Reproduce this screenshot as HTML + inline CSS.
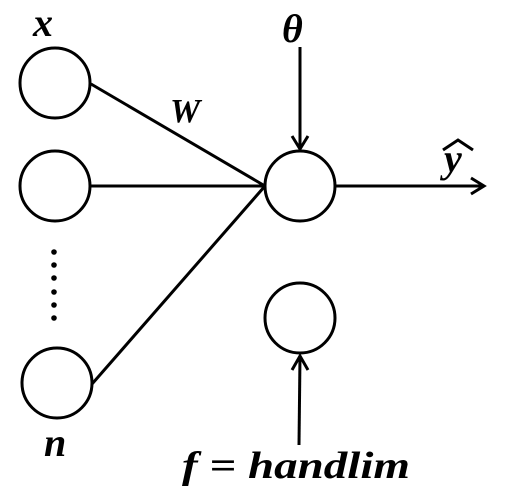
<!DOCTYPE html>
<html><head><meta charset="utf-8"><style>
html,body{margin:0;padding:0;background:#fff;width:505px;height:504px;overflow:hidden}
text{font-family:"Liberation Serif","DejaVu Serif",serif;font-weight:bold;font-style:italic;fill:#000}
</style></head><body>
<svg width="505" height="504" viewBox="0 0 505 504">
<g fill="none" stroke="#000" stroke-width="3">
<circle cx="55" cy="83" r="35"/>
<circle cx="55" cy="186" r="35"/>
<circle cx="57" cy="383" r="35"/>
<circle cx="300" cy="186" r="35"/>
<circle cx="300" cy="318" r="35"/>
<line x1="91" y1="84" x2="265" y2="186"/>
<line x1="91" y1="186" x2="265" y2="186"/>
<line x1="92" y1="384" x2="265" y2="186"/>
<line x1="300" y1="47" x2="300" y2="149"/>
<polyline points="292,136 300,149 308,136"/>
<line x1="335" y1="186" x2="484" y2="186"/>
<polyline points="471,178 484,186 471,194"/>
<line x1="299" y1="445" x2="300" y2="356"/>
<polyline points="292,370 300,356 308,370"/>
</g>
<g fill="#000">
<circle cx="54" cy="252" r="2.8"/><circle cx="54" cy="265" r="2.8"/><circle cx="54" cy="278" r="2.8"/>
<circle cx="54" cy="292" r="2.8"/><circle cx="54" cy="305" r="2.8"/><circle cx="54" cy="318" r="2.8"/>
</g>
<text x="33" y="36" font-size="40">x</text>
<text x="170" y="122" font-size="34">W</text>
<text x="282" y="42" font-size="40">θ</text>
<text x="444" y="172" font-size="40">y</text>
<polyline points="443,150 458,140 473,150" fill="none" stroke="#000" stroke-width="3"/>
<text x="44" y="456" font-size="40">n</text>
<text x="182" y="478" font-size="38" textLength="228" lengthAdjust="spacingAndGlyphs">f = handlim</text>
</svg>
</body></html>
